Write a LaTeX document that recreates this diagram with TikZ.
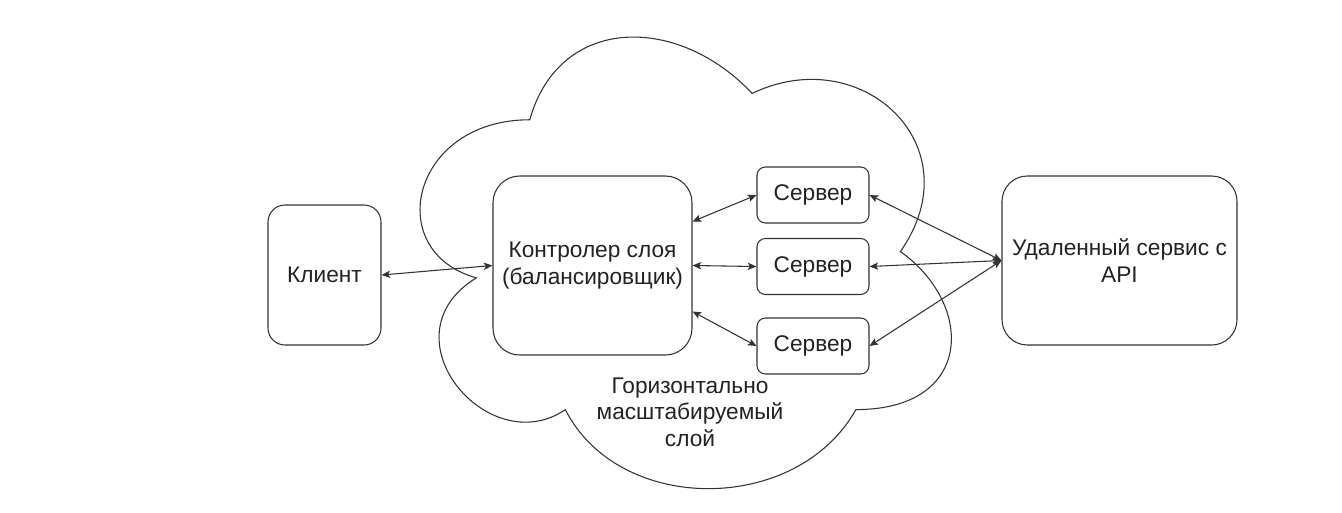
\documentclass[tikz,border=0pt]{standalone}
\usepackage{fontspec}
\setmainfont{Liberation Sans}
\usetikzlibrary{arrows.meta,calc}

\definecolor{ink}{HTML}{222222}
\definecolor{edge}{HTML}{333333}

\begin{document}
\begin{tikzpicture}[x=0.75pt,y=-0.75pt,
  every node/.style={font=\fontsize{17}{20}\selectfont, text=ink, align=center, inner sep=0pt},
  box/.style={draw=edge, line width=0.8pt, fill=white},
  link/.style={draw=edge, line width=0.8pt, {Stealth[length=6.5pt,width=5.5pt,inset=1.5pt]}-{Stealth[length=6.5pt,width=5.5pt,inset=1.5pt]}}
]
\useasboundingbox (0,0) rectangle (1342,512);

% cloud that holds the horizontally scaled layer
\draw[draw=edge, line width=0.8pt, fill=white]
  (529.75,119.75) .. controls (411.15,119.75) and (381.5,251.5) .. (476.38,277.85)
  .. controls (381.5,335.82) and (488.24,462.3) .. (565.33,409.6)
  .. controls (618.7,515) and (796.6,515) .. (855.9,409.6)
  .. controls (974.5,409.6) and (974.5,304.2) .. (900.375,251.5)
  .. controls (974.5,146.1) and (861.83,40.7) .. (752.125,93.4)
  .. controls (678,14.35) and (559.4,14.35) .. (529.75,119.75) -- cycle;

\node (layer) at (690,412) {Горизонтально\\масштабируемый\\слой};

% boxes
\node[box, rounded corners=12.75pt, minimum width=84.75pt, minimum height=105pt] (client) at (324.5,275) {Клиент};
\node[box, rounded corners=20pt, minimum width=149.25pt, minimum height=134.25pt] (ctrl) at (592.5,265.5) {Контролер слоя\\(балансировщик)};
\node[box, rounded corners=6.3pt, minimum width=84pt, minimum height=42pt] (s1) at (813,195) {Сервер};
\node[box, rounded corners=6.3pt, minimum width=84pt, minimum height=42pt] (s2) at (813,266.5) {Сервер};
\node[box, rounded corners=6.3pt, minimum width=84pt, minimum height=42pt] (s3) at (813,346) {Сервер};
\node[box, rounded corners=19pt, minimum width=176.25pt, minimum height=126.75pt] (api) at (1119.5,260.5) {Удаленный сервис с\\API};

% attachment points on the controller
\coordinate (ctop) at ($(ctrl.east)+(0,-44)$);
\coordinate (cbot) at ($(ctrl.east)+(0,46)$);

% connectors
\draw[link] (client.east) -- (ctrl.west);
\draw[link] (ctop) -- (s1.west);
\draw[link] (ctrl.east) -- (s2.west);
\draw[link] (cbot) -- (s3.west);
\draw[link] (s1.east) -- (api.west);
\draw[link] (s2.east) -- (api.west);
\draw[link] (s3.east) -- (api.west);
\end{tikzpicture}
\end{document}
